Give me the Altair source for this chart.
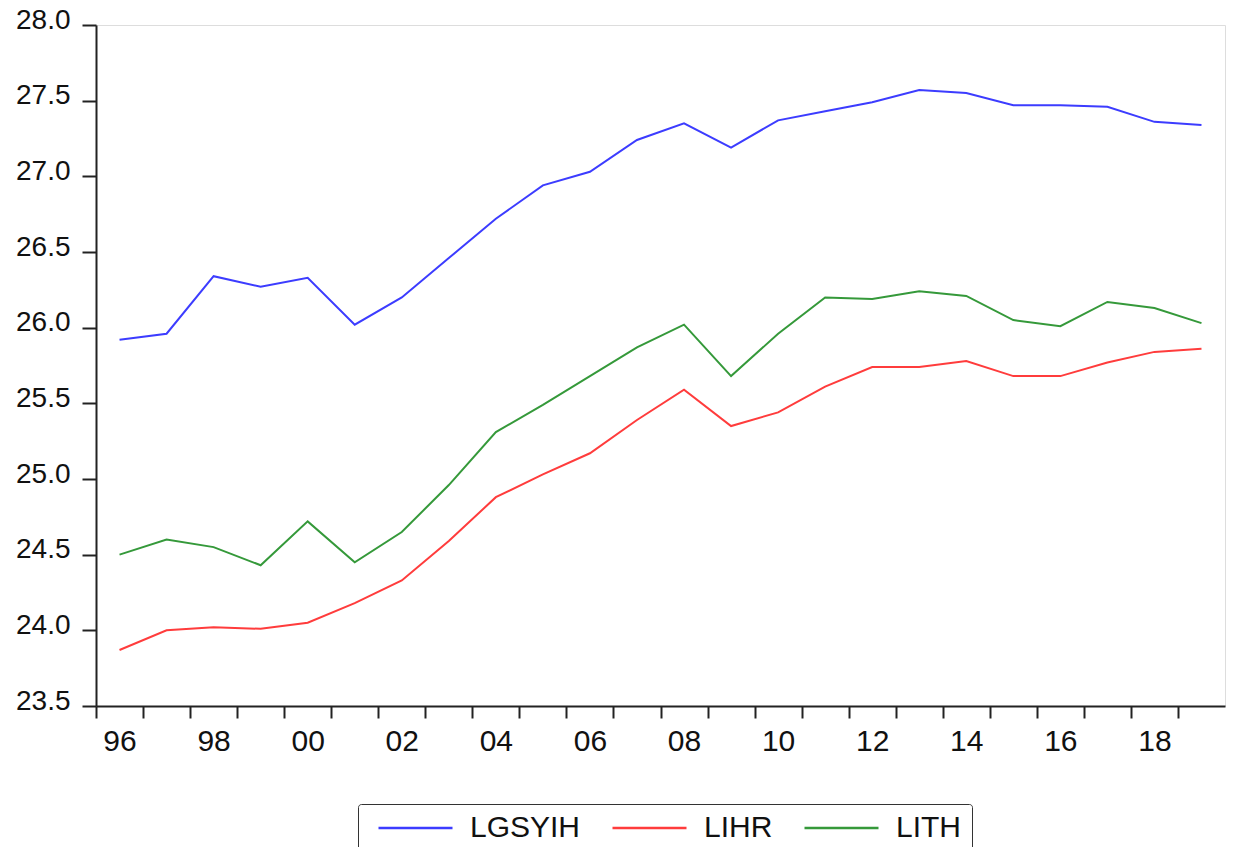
import altair as alt
import pandas as pd

years = list(range(1996, 2020))
series_names = ["LGSYIH", "LIHR", "LITH"]
series_colors = ["#3c3cff", "#ff3c3c", "#35993a"]

LGSYIH = [25.92, 25.96, 26.34, 26.27, 26.33, 26.02, 26.20, 26.46, 26.72, 26.94, 27.03, 27.24,
          27.35, 27.19, 27.37, 27.43, 27.49, 27.57, 27.55, 27.47, 27.47, 27.46, 27.36, 27.34]
LIHR = [23.87, 24.00, 24.02, 24.01, 24.05, 24.18, 24.33, 24.59, 24.88, 25.03, 25.17, 25.39,
        25.59, 25.35, 25.44, 25.61, 25.74, 25.74, 25.78, 25.68, 25.68, 25.77, 25.84, 25.86]
LITH = [24.50, 24.60, 24.55, 24.43, 24.72, 24.45, 24.65, 24.96, 25.31, 25.49, 25.68, 25.87,
        26.02, 25.68, 25.96, 26.20, 26.19, 26.24, 26.21, 26.05, 26.01, 26.17, 26.13, 26.03]

y_ticks = [23.5, 24.0, 24.5, 25.0, 25.5, 26.0, 26.5, 27.0, 27.5, 28.0]

rows = []
for name, vals in zip(series_names, [LGSYIH, LIHR, LITH]):
    for yr, v in zip(years, vals):
        rows.append({"year": yr, "series": name, "value": v})
df = pd.DataFrame(rows)

FONT = "Liberation Sans"
PAD_L, PAD_T, PAD_R, PAD_B = 88, 17, 1, 141
W, H = 1129, 681

chart = (
    alt.Chart(df)
    .transform_calculate(xpos="datum.year + 0.5")
    .mark_line(strokeWidth=2)
    .encode(
        x=alt.X(
            "xpos:Q",
            scale=alt.Scale(domain=[1996, 2020], nice=False, zero=False),
            axis=alt.Axis(
                title=None,
                values=years,
                labelExpr="datum.value % 2 == 0 ? substring(toString(datum.value), 2, 4) : ''",
                labelOffset=W / 24 / 2,
                labelFlush=False,
                labelOverlap=False,
                labelFont=FONT,
                labelFontSize=30,
                labelColor="#111",
                labelPadding=8,
                tickSize=12,
                tickWidth=2,
                tickColor="#222",
                domainColor="#222",
                domainWidth=2,
                grid=False,
            ),
        ),
        y=alt.Y(
            "value:Q",
            scale=alt.Scale(domain=[23.5, 28.0], nice=False, zero=False),
            axis=alt.Axis(
                title=None,
                values=y_ticks,
                format=".1f",
                labelFont=FONT,
                labelFontSize=28,
                labelColor="#111",
                labelPadding=12,
                labelBaseline="alphabetic",
                labelOffset=3,
                labelOverlap=False,
                tickSize=14,
                tickWidth=2,
                tickColor="#222",
                domainColor="#222",
                domainWidth=2,
                grid=False,
            ),
        ),
        color=alt.Color(
            "series:N",
            scale=alt.Scale(domain=series_names, range=series_colors),
            sort=series_names,
            legend=alt.Legend(
                title=None,
                orient="none",
                legendX=262,
                legendY=779,
                direction="horizontal",
                columns=3,
                symbolType="stroke",
                symbolSize=5476,
                symbolStrokeWidth=2.5,
                symbolOffset=9,
                labelFont=FONT,
                labelFontSize=30,
                labelColor="#111",
                labelOffset=16,
                columnPadding=21,
                padding=10,
                clipHeight=28,
                strokeColor="#333",
                fillColor="white",
                cornerRadius=3,
                labelLimit=0,
            ),
        ),
    )
    .properties(
        width=W,
        height=H,
        autosize=alt.AutoSizeParams(type="none"),
        padding={"left": PAD_L, "top": PAD_T, "right": PAD_R, "bottom": PAD_B},
    )
    .configure_view(stroke="#222", strokeWidth=2)
    .configure_legend(strokeWidth=2)
    .configure(background="white")
)

chart.save("out.html", embed_options={"renderer": "svg", "actions": False})
